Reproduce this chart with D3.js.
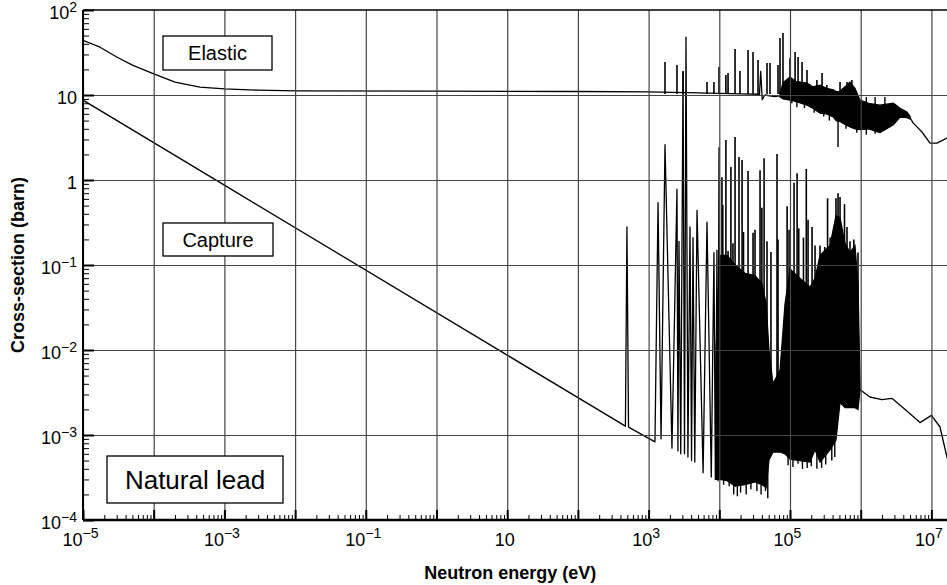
<!DOCTYPE html>
<html>
<head>
<meta charset="utf-8">
<script src="https://cdn.jsdelivr.net/npm/d3@7"></script>
<style>
  body { margin: 0; background: #fff; }
  svg { display: block; font-family: "Liberation Sans", Arial, sans-serif; }
</style>
</head>
<body>
<svg id="chart"></svg>
<script>

// ---- data (energy in eV, cross-section in barn) ----

// elastic: smooth part and flat plateau
const elasticE = [1e-5, 1.74e-5, 3e-5, 5e-5, 1e-4, 2e-4, 4.5e-4, 1e-3, 3e-3, 1e-2, 1, 100, 1e3, 5e3, 2e4, 3.7e4, 3.85e4, 4.05e4, 4.4e4, 6e4, 7.2e4];
const elasticV = [44, 36.5, 28, 22.5, 17.7, 14.2, 12.4, 11.8, 11.4, 11.2, 11.1, 11.0, 10.9, 10.6, 10.3, 10.2, 19, 8.8, 10.0, 9.6, 9.8];

// elastic: resonance peaks
const elasticPeakE = [1706, 2520, 3070, 6700, 8400, 9900, 1.24e4, 1.33e4, 1.67e4, 1.96e4, 2.55e4, 3.0e4, 3.53e4, 4.73e4, 5.21e4, 6.77e4, 7.22e4, 7.96e4, 1e5, 1.18e5, 1.3e5, 1.48e5, 1.74e5, 2.4e5, 2.84e5, 3.32e5, 5.1e5, 6.4e5, 7.5e5];
const elasticPeakV = [24.4, 22.5, 19.1, 14.2, 14.2, 21.3, 17.2, 18.1, 34.8, 19.1, 33.8, 32, 25.8, 23.8, 23.8, 22.5, 46.9, 53.6, 27.2, 32, 28, 24.4, 19.7, 15, 18.1, 13.1, 14.2, 14.2, 15];

// elastic: dips below the band
const elasticDipE = [1.06e5, 1.25e5, 1.6e5, 2.2e5, 3.0e5, 3.6e5, 4.78e5, 6.2e5, 8.8e5, 1.2e6, 1.6e6, 2.2e6];
const elasticDipV = [8.0, 7.2, 7.0, 6.2, 5.6, 5.0, 2.44, 4.0, 3.6, 3.4, 3.5, 4.0];

// elastic: unresolved band (low / high edge)
const elasticBandE = [7.2e4, 8e4, 1e5, 1.2e5, 1.74e5, 2.1e5, 2.66e5, 3.3e5, 4.1e5, 4.5e5, 5.0e5, 6.0e5, 7.06e5, 8.3e5, 9.8e5, 1.3e6, 1.87e6, 2.9e6, 3.6e6, 4.5e6, 5.0e6];
const elasticBandLow = [9.5, 9.0, 8.7, 8.4, 7.6, 7.0, 6.1, 6.0, 5.5, 5.0, 4.9, 4.5, 4.2, 4.0, 3.9, 4.0, 3.6, 4.45, 5.5, 5.4, 5.2];
const elasticBandHigh = [10.5, 14, 16.3, 14.5, 13.8, 12.5, 13.1, 12, 11.5, 11, 11, 12.5, 14.2, 12, 8.7, 8.0, 7.6, 8.0, 7.0, 6.3, 5.6];

// elastic: smooth tail
const elasticTailE = [5.0e6, 5.5e6, 7.36e6, 9.55e6, 1.2e7, 1.66e7, 2e7];
const elasticTailV = [5.4, 4.7, 3.67, 2.72, 2.72, 3.12, 3.4];

// capture: 1/v line and resolved resonances
const captureE = [1e-5, 1e-3, 10, 470, 494, 520, 1230, 1360, 1500, 1706, 2140, 2520, 2600, 2690, 2850, 3070, 3220, 3380, 3600, 3850, 4050, 4245, 4500, 4840, 5900, 6700, 7700, 8400, 8800, 9270, 9600, 9900, 1.0e4];
const captureV = [8.7, 0.87, 8.7e-3, 1.27e-3, 0.28, 1.24e-3, 8.3e-4, 0.54, 9e-4, 2.6, 7e-4, 0.78, 6.5e-4, 0.19, 6e-4, 18.6, 6e-4, 48, 5.5e-4, 0.28, 5e-4, 0.21, 4.8e-4, 0.44, 3.6e-4, 0.32, 3.2e-4, 0.14, 3e-4, 0.15, 2.9e-4, 2.4, 3e-4];

// capture: peaks standing out of the dense region
const capturePeakE = [1.09e4, 1.12e4, 1.24e4, 1.33e4, 1.46e4, 1.56e4, 1.67e4, 1.9e4, 2.1e4, 2.2e4, 2.55e4, 3.0e4, 3.2e4, 3.77e4, 4.0e4, 4.3e4, 4.73e4, 5.38e4, 6.55e4, 6.77e4, 9.1e4, 9.7e4, 1.14e5, 1.26e5, 1.33e5, 1.55e5, 1.7e5, 1.8e5, 2.05e5, 2.26e5, 2.66e5, 3.1e5, 3.4e5, 3.7e5, 4.47e5, 4.78e5, 5.1e5, 5.9e5, 6.4e5, 7.06e5, 8.0e5, 9.16e5];
const capturePeakV = [1.08, 0.51, 2.96, 0.146, 1.42, 0.18, 3.2, 1.86, 1.72, 0.245, 1.28, 0.24, 0.26, 1.3, 0.47, 1.8, 0.19, 0.142, 2.02, 0.2, 0.49, 0.26, 0.93, 1.2, 0.27, 0.21, 1.35, 0.34, 0.28, 0.17, 0.17, 0.163, 0.61, 0.21, 0.61, 0.7, 0.63, 0.52, 0.28, 0.19, 0.2, 0.14];

// capture: troughs reaching below the dense region
const captureDipE = [1.15e4, 1.38e4, 1.6e4, 1.8e4, 2.0e4, 2.4e4, 2.8e4, 3.4e4, 3.9e4, 4.5e4, 4.85e4, 9.4e4, 1.1e5, 1.3e5, 1.5e5, 1.75e5, 2.0e5, 2.4e5, 2.8e5, 3.2e5, 3.9e5, 4.3e5];
const captureDipV = [2.6e-4, 2.5e-4, 2.0e-4, 1.9e-4, 2.1e-4, 2.0e-4, 2.3e-4, 2.2e-4, 2.0e-4, 2.2e-4, 1.8e-4, 4.4e-4, 4.2e-4, 4.6e-4, 4.0e-4, 4.1e-4, 4.3e-4, 4.0e-4, 4.1e-4, 4.5e-4, 5.0e-4, 5.5e-4];

// capture: dense region (low / high edge)
const captureBandE = [8980, 1.02e4, 1.29e4, 1.67e4, 2.31e4, 3.2e4, 4.02e4, 4.6e4, 5.05e4, 5.75e4, 7.22e4, 8.5e4, 1e5, 1.38e5, 1.92e5, 2.26e5, 2.66e5, 3.68e5, 4.47e5, 5.1e5, 6.0e5, 7.06e5, 8.3e5, 9.16e5, 9.8e5];
const captureBandLow = [3.0e-4, 3.0e-4, 2.9e-4, 2.5e-4, 2.6e-4, 2.8e-4, 2.6e-4, 2.4e-4, 5.1e-4, 6.3e-4, 6.3e-4, 6.0e-4, 5.2e-4, 5.0e-4, 4.8e-4, 6.7e-4, 4.8e-4, 6.7e-4, 8.7e-4, 2.4e-3, 2.1e-3, 2.1e-3, 2.1e-3, 2.0e-3, 3.4e-3];
const captureBandHigh = [0.01, 0.13, 0.13, 0.1, 0.08, 0.075, 0.06, 0.035, 0.01, 0.004, 0.0058, 0.035, 0.09, 0.07, 0.055, 0.07, 0.13, 0.17, 0.38, 0.36, 0.18, 0.14, 0.17, 0.06, 4.1e-3];

// capture: smooth tail above 1 MeV
const captureTailE = [9.8e5, 1.35e6, 2.0e6, 2.76e6, 4.25e6, 6.9e6, 1.0e7, 1.32e7, 1.66e7, 2.0e7];
const captureTailV = [3.4e-3, 2.8e-3, 2.6e-3, 2.7e-3, 2.0e-3, 1.4e-3, 1.7e-3, 1.25e-3, 5.5e-4, 3e-4];

// tick labels: [base, exponent]
const xTickValues = [1e-5, 1e-3, 1e-1, 10, 1e3, 1e5, 1e7];
const xTickLabels = [["10", "\u22125"], ["10", "\u22123"], ["10", "\u22121"], ["10", ""], ["10", "3"], ["10", "5"], ["10", "7"]];
const yTickValues = [1e2, 10, 1, 1e-1, 1e-2, 1e-3, 1e-4];
const yTickLabels = [["10", "2"], ["10", ""], ["1", ""], ["10", "\u22121"], ["10", "\u22122"], ["10", "\u22123"], ["10", "\u22124"]];

// ---- layout ----
const width = 947, height = 585;
const margin = {left: 83, top: 10, bottom: 65};
const decadePx = 70.7;
const plotBottom = height - margin.bottom;

const x = d3.scaleLog().domain([1e-5, 1e7]).range([margin.left, margin.left + 12 * decadePx]);
const y = d3.scaleLog().domain([1e-4, 1e2]).range([plotBottom, margin.top]);

const isDecade = v => Math.abs(Math.log10(v) - Math.round(Math.log10(v))) < 1e-6;

const svg = d3.select("#chart").attr("width", width).attr("height", height);

svg.append("defs").append("clipPath").attr("id", "plotClip")
    .append("rect")
    .attr("x", margin.left).attr("y", margin.top)
    .attr("width", width - margin.left).attr("height", plotBottom - margin.top);

const plot = svg.append("g").attr("clip-path", "url(#plotClip)");

const line = d3.line().x(d => x(d[0])).y(d => y(d[1]));
const area = d3.area().x(d => x(d[0])).y0(d => y(d[1])).y1(d => y(d[2]));

// vertical strokes from a level inside the band out to each value
function strokes(E, V, base, w) {
    plot.append("g").selectAll("line")
        .data(d3.zip(E, V))
        .join("line")
        .attr("x1", d => x(d[0])).attr("x2", d => x(d[0]))
        .attr("y1", y(base)).attr("y2", d => y(d[1]))
        .attr("stroke", "#000").attr("stroke-width", w);
}

function curve(pts) {
    plot.append("path").datum(pts).attr("d", line)
        .attr("fill", "none").attr("stroke", "#000").attr("stroke-width", 1.3)
        .attr("stroke-linejoin", "round");
}

// capture curve
plot.append("path")
    .datum(d3.zip(captureBandE, captureBandLow, captureBandHigh))
    .attr("d", area)
    .attr("fill", "#000").attr("stroke", "#000").attr("stroke-width", 1.2);
strokes(capturePeakE, capturePeakV, 3e-3, 1.6);
strokes(captureDipE, captureDipV, 3e-3, 1.4);
curve(d3.zip(captureE, captureV));
curve(d3.zip(captureTailE, captureTailV));

// elastic curve
plot.append("path")
    .datum(d3.zip(elasticBandE, elasticBandLow, elasticBandHigh))
    .attr("d", area)
    .attr("fill", "#000").attr("stroke", "#000").attr("stroke-width", 1.2);
strokes(elasticPeakE, elasticPeakV, 10.3, 1.6);
strokes(elasticDipE, elasticDipV, 9.5, 1.4);
curve(d3.zip(elasticE, elasticV));
curve(d3.zip(elasticTailE, elasticTailV));

// grid (drawn over the curves, as in the original)
const xDecades = x.ticks(20).filter(isDecade);
const yDecades = y.ticks(20).filter(isDecade);

svg.append("g")
    .attr("transform", `translate(0,${plotBottom})`)
    .call(d3.axisBottom(x).tickValues(xDecades).tickSize(-(plotBottom - margin.top)).tickFormat(""))
    .call(g => g.select(".domain").remove())
    .call(g => g.selectAll(".tick line").attr("stroke", "#444").attr("stroke-width", 1.2));

svg.append("g")
    .attr("transform", `translate(${margin.left},0)`)
    .call(d3.axisLeft(y).tickValues(yDecades.slice(1, -1)).tickSize(-(width - margin.left)).tickFormat(""))
    .call(g => g.select(".domain").remove())
    .call(g => g.selectAll(".tick line").attr("stroke", "#444").attr("stroke-width", 1.2));

// frame
svg.append("line").attr("x1", margin.left).attr("x2", width).attr("y1", margin.top).attr("y2", margin.top)
    .attr("stroke", "#000").attr("stroke-width", 1.5);
svg.append("line").attr("x1", margin.left).attr("x2", width).attr("y1", plotBottom).attr("y2", plotBottom)
    .attr("stroke", "#000").attr("stroke-width", 2.5);
svg.append("line").attr("x1", margin.left).attr("x2", margin.left).attr("y1", margin.top).attr("y2", plotBottom)
    .attr("stroke", "#000").attr("stroke-width", 2);

// ticks (inside)
const xMinor = x.ticks(20).filter(v => !isDecade(v));
const yMinor = y.ticks(20).filter(v => !isDecade(v));

svg.append("g").attr("transform", `translate(0,${plotBottom})`)
    .call(d3.axisBottom(x).tickValues(xMinor).tickSize(-5).tickFormat(""))
    .call(g => g.select(".domain").remove());
svg.append("g").attr("transform", `translate(0,${plotBottom})`)
    .call(d3.axisBottom(x).tickValues(xDecades).tickSize(-10).tickFormat(""))
    .call(g => g.select(".domain").remove())
    .call(g => g.selectAll(".tick line").attr("stroke-width", 2));

svg.append("g").attr("transform", `translate(${margin.left},0)`)
    .call(d3.axisLeft(y).tickValues(yMinor).tickSize(-6).tickFormat(""))
    .call(g => g.select(".domain").remove());
svg.append("g").attr("transform", `translate(${margin.left},0)`)
    .call(d3.axisLeft(y).tickValues(yDecades).tickSize(-11).tickFormat(""))
    .call(g => g.select(".domain").remove())
    .call(g => g.selectAll(".tick line").attr("stroke-width", 2));

// tick labels with superscripts
function writeLabel(sel, labels, raise) {
    sel.selectAll(".tick text").each(function(d, i) {
        const t = d3.select(this).attr("fill", "#000");
        t.append("tspan").text(labels[i][0]);
        if (labels[i][1]) {
            t.append("tspan").attr("dy", -raise).attr("font-size", 14).text(labels[i][1]);
        }
    });
}

svg.append("g").attr("transform", `translate(0,${plotBottom})`)
    .call(d3.axisBottom(x).tickValues(xTickValues).tickSize(0).tickPadding(13).tickFormat(""))
    .call(g => g.select(".domain").remove())
    .attr("font-size", 18).attr("font-family", null)
    .call(g => g.selectAll(".tick text").attr("x", -3))
    .call(g => writeLabel(g, xTickLabels, 8));

svg.append("g").attr("transform", `translate(${margin.left},3)`)
    .call(d3.axisLeft(y).tickValues(yTickValues).tickSize(0).tickPadding(6).tickFormat(""))
    .call(g => g.select(".domain").remove())
    .attr("font-size", 18).attr("font-family", null)
    .call(g => writeLabel(g, yTickLabels, 7));

// axis titles
svg.append("text")
    .attr("x", (margin.left + x(1e7)) / 2 + 3).attr("y", 579)
    .attr("text-anchor", "middle").attr("font-weight", "bold").attr("font-size", 18)
    .text("Neutron energy (eV)");

svg.append("text")
    .attr("transform", `translate(24,${(margin.top + plotBottom) / 2}) rotate(-90)`)
    .attr("text-anchor", "middle").attr("font-weight", "bold").attr("font-size", 18)
    .text("Cross-section (barn)");

// labelled boxes
function labelBox(bx, by, bw, bh, size, txt) {
    const g = svg.append("g");
    g.append("rect").attr("x", bx).attr("y", by).attr("width", bw).attr("height", bh)
        .attr("fill", "#fff").attr("stroke", "#000").attr("stroke-width", 1.3);
    g.append("text").attr("x", bx + bw / 2).attr("y", by + bh / 2 + size * 0.36)
        .attr("text-anchor", "middle").attr("font-size", size).text(txt);
}

labelBox(163, 36, 109, 34, 20, "Elastic");
labelBox(163, 223, 110, 33, 20, "Capture");
labelBox(107, 456, 176, 47, 26, "Natural lead");

</script>
</body>
</html>
